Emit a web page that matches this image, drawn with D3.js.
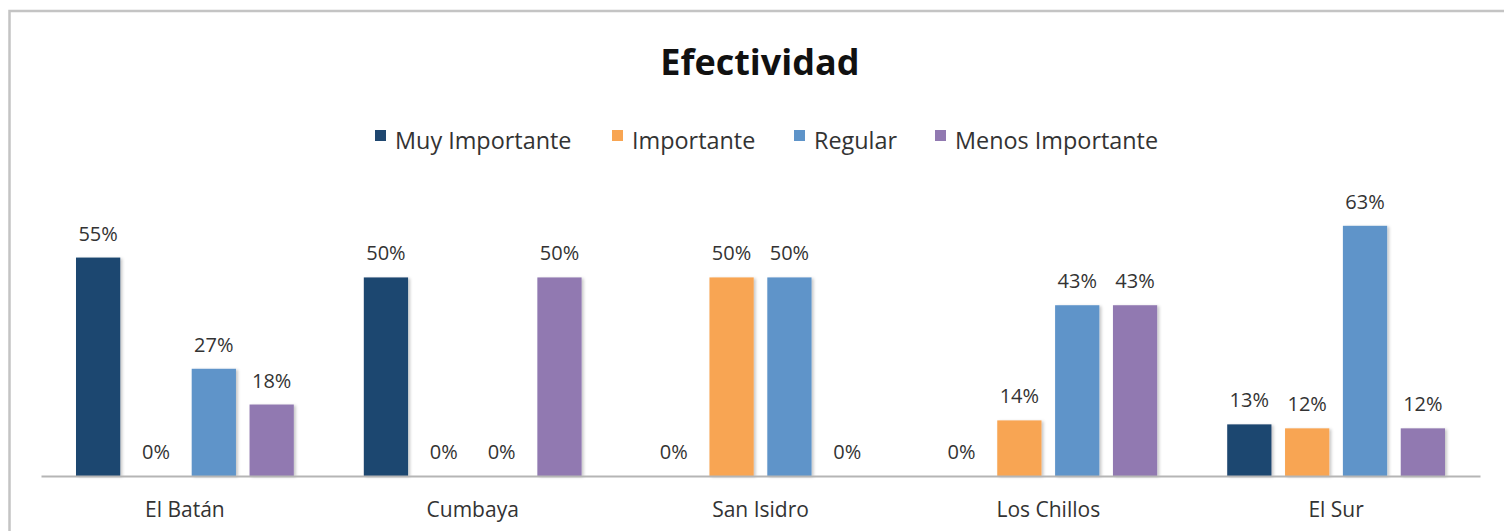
<!DOCTYPE html>
<html>
<head>
<meta charset="utf-8">
<script src="https://cdn.jsdelivr.net/npm/d3@7"></script>
<style>
  html, body { margin: 0; padding: 0; background: #fff; }
  svg { display: block; }
</style>
</head>
<body>
<figure id="chart" style="margin:0"></figure>
<script>
// chart data
const categories = ["El Batán", "Cumbaya", "San Isidro", "Los Chillos", "El Sur"]
const series = ["Muy Importante", "Importante", "Regular", "Menos Importante"]
const muyImportante = [55, 50, 0, 0, 13]
const importante = [0, 0, 50, 14, 12]
const regular = [27, 0, 50, 43, 63]
const menosImportante = [18, 50, 0, 43, 12]
const colors = ["#1f4770", "#f8a552", "#5e94c9", "#9179b1"]

const values = [muyImportante, importante, regular, menosImportante]

const width = 1504, height = 531
const font = "'Open Sans', sans-serif"

const svg = d3.select("figure#chart")
  .append("svg")
  .attr("width", width)
  .attr("height", height)

// soft shadow like the spreadsheet bars
const defs = svg.append("defs")
const shadow = defs.append("filter").attr("id", "shadow")
  .attr("x", "-20%").attr("y", "-5%").attr("width", "150%").attr("height", "115%")
shadow.append("feDropShadow")
  .attr("dx", 2).attr("dy", 1).attr("stdDeviation", 1.5)
  .attr("flood-color", "#000").attr("flood-opacity", 0.22)

// chart area border (cut by the image edge on the right and bottom)
svg.append("rect")
  .attr("x", 9.5).attr("y", 11)
  .attr("width", 1700).attr("height", 700)
  .attr("fill", "none")
  .attr("stroke", "#c4c4c4")
  .attr("stroke-width", 2.5)

svg.append("text")
  .attr("x", 760).attr("y", 75)
  .attr("text-anchor", "middle")
  .style("font-family", font)
  .style("font-weight", "bold")
  .style("font-size", "36px")
  .attr("fill", "#111")
  .text("Efectividad")

// legend
const legendX = [395, 632, 814, 955]
const legend = svg.append("g")
series.forEach((s, i) => {
  const g = legend.append("g").attr("transform", `translate(${legendX[i]},0)`)
  g.append("rect")
    .attr("x", -20).attr("y", 130)
    .attr("width", 11).attr("height", 11)
    .attr("fill", colors[i])
  g.append("text")
    .attr("x", 0).attr("y", 149)
    .style("font-family", font)
    .style("font-size", "23.4px")
    .attr("fill", "#333")
    .text(s)
})

const x0 = d3.scaleBand()
  .domain(categories)
  .range([41, 1480])
  .padding(0)

const x1 = d3.scaleBand()
  .domain(series)
  .range([35, x0.bandwidth() - 35])
  .paddingInner(0.235)

const y = d3.scaleLinear()
  .domain([0, 70])
  .range([476, 198])

const groups = svg.append("g")
  .selectAll("g")
  .data(categories)
  .join("g")
  .attr("transform", d => `translate(${x0(d)},0)`)

groups.each(function (cat, ci) {
  const g = d3.select(this)
  series.forEach((s, si) => {
    const v = values[si][ci]
    if (v > 0) {
      g.append("rect")
        .attr("x", x1(s))
        .attr("y", y(v))
        .attr("width", x1.bandwidth())
        .attr("height", y(0) - y(v))
        .attr("fill", colors[si])
        .attr("filter", "url(#shadow)")
    }
    g.append("text")
      .attr("x", x1(s) + x1.bandwidth() / 2)
      .attr("y", y(v) - 17)
      .attr("text-anchor", "middle")
      .style("font-family", font)
      .style("font-size", "20px")
      .attr("fill", "#333")
      .text(v + "%")
  })
})

// category axis
const xAxis = d3.axisBottom(x0).tickSize(0).tickPadding(0)
const axisG = svg.append("g")
  .attr("transform", `translate(0, ${y(0)})`)
  .call(xAxis)
axisG.select(".domain")
  .attr("stroke", "#b5b5b5")
  .attr("stroke-width", 2)
axisG.selectAll("text")
  .attr("dy", 0)
  .attr("y", 41)
  .style("font-family", font)
  .style("font-size", "21px")
  .attr("fill", "#333")
</script>
</body>
</html>
